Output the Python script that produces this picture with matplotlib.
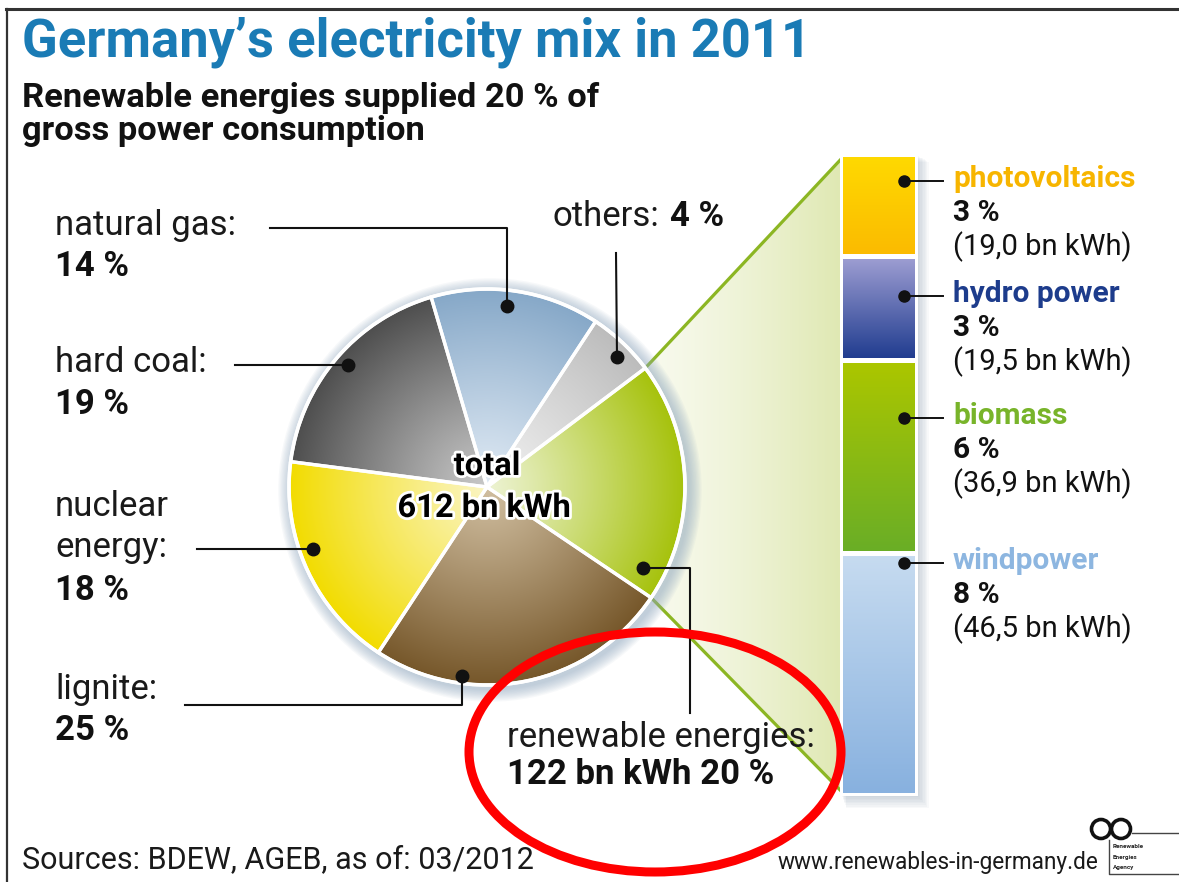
import numpy as np
import matplotlib
matplotlib.use('Agg')
import matplotlib.pyplot as plt
import matplotlib.patheffects as pe
from matplotlib.patches import Polygon, Rectangle, Circle, Ellipse
from matplotlib.colors import to_rgb

plt.rcParams['font.family'] = ['Roboto', 'DejaVu Sans']

W, H = 1179, 882

# pie slices, counter-clockwise starting at the renewables slice
sources = ['renewable energies', 'others', 'natural gas', 'hard coal', 'nuclear energy', 'lignite']
share_label = [20, 4, 14, 19, 18, 25]
share_drawn = [19.7, 5.5, 13.8, 18.4, 17.8, 24.8]   # slice sizes as drawn in the graphic
inner_col = ['#edf3d3', '#f2f2f2', '#e0eaf4', '#c8c8c8', '#fbf5c2', '#d0bea0']
outer_col = ['#a6c20c', '#bcbcbc', '#86a8c8', '#4e4e4e', '#f2dc00', '#76572a']
total_kwh = 612
ren_kwh_total = 122

# breakdown of the renewables
ren_names = ['photovoltaics', 'hydro power', 'biomass', 'windpower']
ren_pct = [3, 3, 6, 8]
ren_kwh = [19.0, 19.5, 36.9, 46.5]
ren_name_col = ['#f7b500', '#1d3c8c', '#78b42a', '#8db6e0']
ren_top_col = ['#ffd900', '#9d9dd2', '#abc600', '#c6dbf0']
ren_bot_col = ['#fbbb00', '#213d90', '#6aae26', '#88b1df']


def radial(c_in, c_out, n=300):
    g = np.linspace(-1, 1, n)
    xx, yy = np.meshgrid(g, g)
    t = np.clip(np.hypot(xx, yy), 0, 1)[..., None] ** 1.1
    return (1 - t) * np.array(to_rgb(c_in)) + t * np.array(to_rgb(c_out))


def vgrad(c_top, c_bot, n=100):
    t = np.linspace(0, 1, n)[:, None, None]
    return (1 - t) * np.array(to_rgb(c_top)) + t * np.array(to_rgb(c_bot))


fig = plt.figure(figsize=(W / 100, H / 100), dpi=100)
ax = fig.add_axes([0, 0, 1, 1])

# ---- pie ----
cx, cy, R = 487, 487, 198
for k in range(10):
    ax.add_patch(Circle((cx + 3, cy + 3), R + 2 + k * 1.3, color='#8ea7bf', alpha=0.07, lw=0, zorder=2))

wedges, _ = ax.pie(share_drawn, center=(cx, cy), radius=R, startangle=34, counterclock=False,
                   wedgeprops=dict(edgecolor='white', linewidth=2.4), frame=True)
for w, ci, co in zip(wedges, inner_col, outer_col):
    w.set_facecolor('none')
    w.set_zorder(4)
    im = ax.imshow(radial(ci, co), extent=(cx - R, cx + R, cy + R, cy - R), origin='upper',
                   zorder=3, interpolation='bilinear')
    im.set_clip_path(w)
ax.add_patch(Circle((cx, cy), R, fill=False, ec='white', lw=2.6, zorder=5))

# ---- zoom wedge towards the bar ----
bx0, bx1, by0, by1 = 843, 915, 157, 793
ren = wedges[0]
a1, a2 = np.deg2rad(ren.theta1), np.deg2rad(ren.theta2)
p_top = (cx + R * np.cos(a1), cy + R * np.sin(a1))
p_bot = (cx + R * np.cos(a2), cy + R * np.sin(a2))
zoom = Polygon([(cx, cy), p_top, (bx0, by0), (bx0, by1), p_bot], closed=True, fc='none', ec='none', zorder=1)
ax.add_patch(zoom)
t = np.linspace(0, 1, 200)[None, :, None] ** 1.3
hg = (1 - t) * np.array(to_rgb('#f8faee')) + t * np.array(to_rgb('#dfe8b2'))
im = ax.imshow(hg, extent=(p_top[0], bx0, by1, by0), origin='upper', zorder=1, interpolation='bilinear')
im.set_clip_path(zoom)
ax.plot([p_top[0], bx0], [p_top[1], by0], color='#8cb623', lw=2.3, zorder=1.5, solid_capstyle='butt')
ax.plot([p_bot[0], bx0], [p_bot[1], by1], color='#8cb623', lw=2.3, zorder=1.5, solid_capstyle='butt')

# ---- stacked bar of renewables ----
for k in range(8):
    ax.add_patch(Rectangle((bx0 - 1 + k * 0.6, by0 - 1 + k * 0.8), bx1 - bx0 + 5 + k * 0.8, by1 - by0 + 5 + k * 0.8,
                           fc='#7f95aa', alpha=0.05, lw=0, zorder=1.6))
ax.add_patch(Rectangle((bx0 - 3, by0 - 3), bx1 - bx0 + 6, by1 - by0 + 6, fc='white', lw=0, zorder=1.7))
gap = 5
scale = (by1 - by0 - gap * (len(ren_kwh) - 1)) / sum(ren_kwh)
heights = [v * scale for v in ren_kwh]
tops = [by0 + sum(heights[:i]) + gap * i for i in range(len(heights))]
bars = ax.bar([(bx0 + bx1) / 2] * 4, heights, width=bx1 - bx0, bottom=tops, color='none', lw=0, zorder=2.1)
for b, top, h, c0, c1 in zip(bars, tops, heights, ren_top_col, ren_bot_col):
    im = ax.imshow(vgrad(c0, c1), extent=(bx0, bx1, top + h, top), origin='upper', zorder=2,
                   interpolation='bilinear', aspect='auto')
    im.set_clip_path(b)

label_y = [181, 296, 418, 563]
for name, pct, kwh, col, y in zip(ren_names, ren_pct, ren_kwh, ren_name_col, label_y):
    ax.plot([904, 943], [y, y], color='#111111', lw=1.4, zorder=6)
    ax.plot(904, y, 'o', color='#111111', ms=8, zorder=6)
    ax.text(953, y - 2, name, color=col, fontsize=21.5, fontweight='bold', va='center')
    ax.text(953, y + 32, f'{pct} %', color='#111111', fontsize=21.5, fontweight='bold', va='center')
    ax.text(953, y + 66, f'({kwh:.1f} bn kWh)'.replace('.', ','), color='#111111', fontsize=21, va='center')

# ---- pie labels ----
lab = dict(fontsize=25, color='#1a1a1a', va='center')
bold = dict(fontsize=25, color='#111111', va='center', fontweight='bold')

ax.text(55, 226, 'natural gas:', **lab)
ax.text(55, 267, f'{share_label[2]} %', **bold)
ax.plot([270, 507, 507], [228, 228, 306], color='#111111', lw=1.5, zorder=6)
ax.plot(507, 306, 'o', color='#111111', ms=9, zorder=6)

ax.text(55, 363, 'hard coal:', **lab)
ax.text(55, 405, f'{share_label[3]} %', **bold)
ax.plot([235, 348], [365, 365], color='#111111', lw=1.5, zorder=6)
ax.plot(348, 365, 'o', color='#111111', ms=9, zorder=6)

ax.text(55, 507, 'nuclear', **lab)
ax.text(55, 548, 'energy:', **lab)
ax.text(55, 590, f'{share_label[4]} %', **bold)
ax.plot([197, 313], [549, 549], color='#111111', lw=1.5, zorder=6)
ax.plot(313, 549, 'o', color='#111111', ms=9, zorder=6)

ax.text(55, 690, 'lignite:', **lab)
ax.text(55, 731, f'{share_label[5]} %', **bold)
ax.plot([185, 462, 462], [705, 705, 676], color='#111111', lw=1.5, zorder=6)
ax.plot(462, 676, 'o', color='#111111', ms=9, zorder=6)

ax.text(553, 216, 'others:', **lab)
ax.text(670, 216, f'{share_label[1]} %', **bold)
ax.plot([616, 617], [253, 357], color='#111111', lw=1.5, zorder=6)
ax.plot(617, 357, 'o', color='#111111', ms=9, zorder=6)

ax.text(507, 738, 'renewable energies:', **lab)
ax.text(507, 775, f'{ren_kwh_total} bn kWh {share_label[0]} %', **bold)
ax.plot([643, 690, 690], [568, 568, 713], color='#111111', lw=1.5, zorder=6)
ax.plot(643, 568, 'o', color='#111111', ms=9, zorder=6)

halo = [pe.withStroke(linewidth=4, foreground='white')]
ax.text(487, 466, 'total', fontsize=23.5, fontweight='bold', ha='center', va='center', zorder=7, path_effects=halo)
ax.text(484, 508, f'{total_kwh} bn kWh', fontsize=23.5, fontweight='bold', ha='center', va='center', zorder=7,
        path_effects=halo)

# ---- titles and footer ----
ax.text(22, 42, 'Germany\u2019s electricity mix in 2011', fontsize=37.8, fontweight='bold', color='#1a7bb5', va='center')
ax.text(22, 98, 'Renewable energies supplied 20 % of', fontsize=24.8, fontweight='bold', color='#111111', va='center')
ax.text(22, 131, 'gross power consumption', fontsize=24.8, fontweight='bold', color='#111111', va='center')
ax.text(22, 860, 'Sources: BDEW, AGEB, as of: 03/2012', fontsize=22, color='#1a1a1a', va='center')
ax.text(778, 862, 'www.renewables-in-germany.de', fontsize=16.3, color='#1a1a1a', va='center')

# logo: two loops plus a small framed name
ax.add_patch(Circle((1101, 829), 9.5, fill=False, ec='#111111', lw=2.6))
ax.add_patch(Circle((1121, 829), 9.5, fill=False, ec='#111111', lw=2.6))
ax.plot([1132, 1179], [833, 833], color='#444444', lw=1)
ax.plot([1109, 1109, 1179], [840, 874, 874], color='#444444', lw=1)
for i, w in enumerate(['Renewable', 'Energies', 'Agency']):
    ax.text(1113, 846 + i * 11, w, fontsize=4.5, fontweight='bold', color='#222222', va='center')

# red highlight
ax.add_patch(Ellipse((655, 752), 372, 240, fill=False, ec='#ff0000', lw=6.5, zorder=8))

# frame
ax.plot([6, W], [9, 9], color='#333333', lw=2.2, zorder=9)
ax.plot([7, 7], [9, H], color='#333333', lw=1.6, zorder=9)

ax.set_aspect('auto')
ax.set_xlim(0, W)
ax.set_ylim(H, 0)
ax.axis('off')
fig.savefig('out.png', dpi=100, facecolor='white')
